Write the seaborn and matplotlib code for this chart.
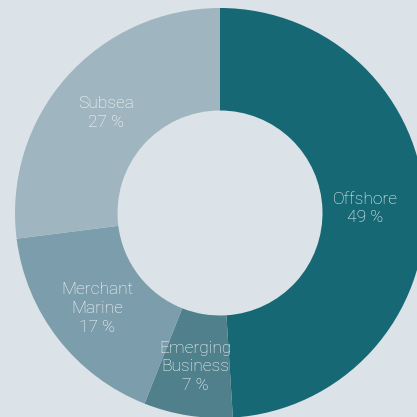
import matplotlib
matplotlib.use("Agg")
import matplotlib.pyplot as plt
import seaborn as sns
import numpy as np

categories = ["Offshore", "Emerging\nBusiness", "Merchant\nMarine", "Subsea"]
values = [49, 7, 17, 27]
colors = ["#156874", "#4f808b", "#7c9dac", "#9fb5bf"]
label_dist = [0.71, 0.76, 0.76, 0.74]

sns.set_theme(style="white")
plt.rcParams['font.family'] = ['Roboto', 'DejaVu Sans']

bg = "#dce3e8"
fig = plt.figure(figsize=(4.17, 4.17), dpi=100, facecolor=bg)
ax = fig.add_axes([0, 0, 1, 1])
ax.set_facecolor(bg)

wedges, _ = ax.pie(values, colors=colors, startangle=90, counterclock=False,
                   radius=1.0, wedgeprops=dict(width=0.5, edgecolor="none", linewidth=0))

total = sum(values)
start = 90.0
for cat, v, d in zip(categories, values, label_dist):
    ang = start - 360 * v / total / 2
    start -= 360 * v / total
    x = d * np.cos(np.radians(ang))
    y = d * np.sin(np.radians(ang))
    ax.text(x, y, f"{cat}\n{v} %", ha="center", va="center", color="#ffffff",
            fontsize=12.5, fontweight="light", linespacing=1.32)

ax.set_xlim(-220 / 205, 197 / 205)
ax.set_ylim(-204 / 205, 213 / 205)
ax.set_aspect("auto")
ax.axis("off")
fig.savefig("out.png", dpi=100, facecolor=bg)
